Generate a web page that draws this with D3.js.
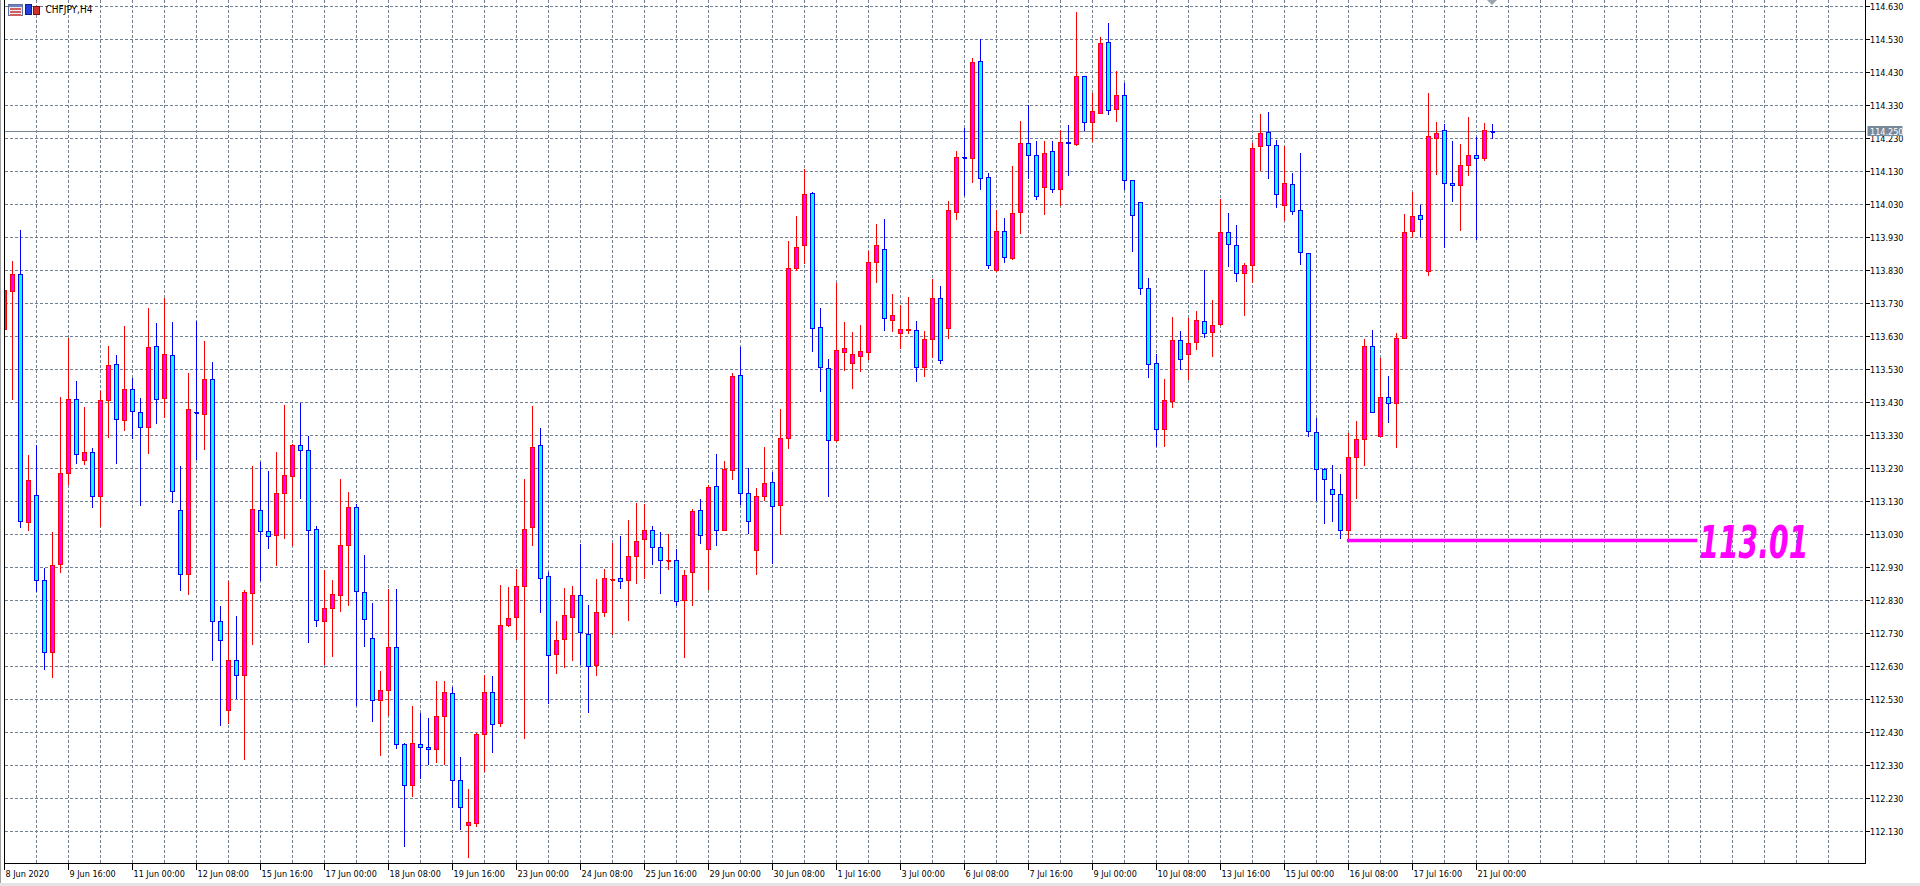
<!DOCTYPE html>
<html><head><meta charset="utf-8">
<script src="https://cdn.jsdelivr.net/npm/d3@7"></script>
<style>html,body{margin:0;padding:0;background:#fff;overflow:hidden}</style>
</head><body><svg id="c" width="1920" height="886" xmlns="http://www.w3.org/2000/svg"></svg>
<script>
const symbolLabel = "CHFJPY,H4";
const timeLabels = ["8 Jun 2020","9 Jun 16:00","11 Jun 00:00","12 Jun 08:00","15 Jun 16:00","17 Jun 00:00","18 Jun 08:00","19 Jun 16:00","23 Jun 00:00","24 Jun 08:00","25 Jun 16:00","29 Jun 00:00","30 Jun 08:00","1 Jul 16:00","3 Jul 00:00","6 Jul 08:00","7 Jul 16:00","9 Jul 00:00","10 Jul 08:00","13 Jul 16:00","15 Jul 00:00","16 Jul 08:00","17 Jul 16:00","21 Jul 00:00"];
const priceTicks = ["112.130","112.230","112.330","112.430","112.530","112.630","112.730","112.830","112.930","113.030","113.130","113.230","113.330","113.430","113.530","113.630","113.730","113.830","113.930","114.030","114.130","114.230","114.330","114.430","114.530","114.630"];

const opens = [113.651,113.766,113.818,113.066,113.148,112.891,112.672,112.939,113.214,113.439,113.255,113.278,113.145,113.436,113.545,113.375,113.469,113.400,113.354,113.600,113.442,113.572,113.103,112.909,113.401,113.394,113.500,112.766,112.497,112.648,112.602,112.851,113.102,113.038,113.027,113.154,113.207,113.299,113.284,113.045,112.766,112.806,112.844,112.996,113.111,112.854,112.715,112.527,112.557,112.687,112.394,112.270,112.394,112.384,112.378,112.478,112.548,112.285,112.148,112.153,112.424,112.551,112.456,112.754,112.777,112.872,113.051,113.299,112.902,112.666,112.712,112.778,112.845,112.727,112.632,112.794,112.893,112.896,112.890,112.963,113.015,113.041,112.990,112.950,112.951,112.830,112.914,113.103,112.986,113.176,113.043,113.224,113.512,113.155,112.982,113.145,113.188,113.119,113.321,113.836,113.905,114.063,113.657,113.533,113.315,113.583,113.548,113.569,113.583,113.854,113.894,113.679,113.640,113.649,113.648,113.536,113.621,113.745,113.654,114.006,114.172,114.169,114.463,114.111,113.829,113.948,113.865,114.005,114.214,114.178,114.081,114.190,114.075,114.218,114.211,114.417,114.278,114.306,114.520,114.318,114.360,114.103,114.035,113.775,113.548,113.349,113.434,113.618,113.576,113.612,113.675,113.642,113.665,113.945,113.906,113.821,113.846,114.205,114.248,114.209,114.027,114.090,114.012,113.882,113.340,113.228,113.167,113.152,113.043,113.264,113.319,113.600,113.328,113.446,113.427,113.625,113.947,113.997,113.827,114.230,114.254,114.094,114.087,114.149,114.179,114.169,114.252];
const highs = [113.775,113.858,113.952,113.270,113.302,112.927,113.039,113.446,113.626,113.495,113.416,113.291,113.464,113.601,113.573,113.663,113.505,113.443,113.716,113.670,113.746,113.673,113.239,113.518,113.676,113.616,113.552,112.813,112.888,112.783,112.861,113.237,113.249,113.222,113.279,113.421,113.304,113.428,113.327,113.055,112.923,112.891,113.197,113.158,113.121,112.967,112.821,112.616,112.865,112.864,112.398,112.510,112.489,112.473,112.586,112.586,112.568,112.356,112.258,112.428,112.603,112.600,112.877,112.870,112.924,113.197,113.418,113.352,112.915,112.767,112.867,112.874,113.000,112.815,112.894,112.925,113.004,113.026,113.073,113.124,113.122,113.055,113.039,113.033,112.985,112.922,113.108,113.137,113.180,113.274,113.253,113.519,113.598,113.231,113.171,113.295,113.219,113.410,113.920,113.995,114.138,114.068,113.717,113.562,113.792,113.673,113.644,113.664,113.888,113.970,113.986,113.758,113.724,113.749,113.677,113.647,113.803,113.783,114.040,114.191,114.262,114.474,114.530,114.126,114.014,113.988,114.146,114.282,114.333,114.222,114.222,114.222,114.257,114.270,114.612,114.417,114.367,114.539,114.579,114.436,114.399,114.103,114.039,113.807,113.578,113.501,113.688,113.646,113.686,113.707,113.830,113.740,114.046,114.004,113.967,113.852,114.217,114.303,114.310,114.225,114.208,114.125,114.186,113.882,113.383,113.231,113.241,113.213,113.337,113.374,113.623,113.649,113.565,113.510,113.641,114.001,114.068,114.028,114.368,114.279,114.273,114.223,114.213,114.295,114.236,114.277,114.274];
const lows = [113.645,113.440,113.053,113.043,112.859,112.623,112.599,112.917,113.184,113.247,113.244,113.112,113.056,113.326,113.247,113.347,113.323,113.120,113.277,113.368,113.387,113.130,112.862,112.850,113.259,113.290,112.650,112.453,112.459,112.535,112.351,112.698,112.892,112.989,112.938,113.020,112.997,113.141,112.705,112.753,112.638,112.663,112.799,112.816,112.514,112.692,112.464,112.363,112.482,112.383,112.087,112.238,112.293,112.335,112.341,112.335,112.205,112.139,112.054,112.148,112.312,112.372,112.451,112.754,112.714,112.414,112.997,112.796,112.518,112.610,112.630,112.650,112.637,112.492,112.604,112.784,112.729,112.867,112.771,112.884,112.898,112.941,112.853,112.926,112.817,112.658,112.816,113.005,112.864,112.999,113.043,113.197,113.123,113.036,112.909,113.134,112.945,113.031,113.293,113.830,113.854,113.586,113.466,113.147,113.312,113.529,113.475,113.526,113.563,113.795,113.650,113.647,113.595,113.642,113.495,113.510,113.569,113.551,113.625,113.986,114.058,114.099,114.077,113.838,113.829,113.856,113.865,113.944,114.110,114.047,114.002,114.068,114.029,114.119,114.211,114.256,114.221,114.306,114.305,114.283,114.077,113.889,113.759,113.506,113.297,113.299,113.415,113.532,113.501,113.593,113.630,113.572,113.665,113.845,113.799,113.696,113.795,114.135,114.110,114.023,113.984,114.002,113.851,113.328,113.136,113.066,113.072,113.018,113.017,113.142,113.242,113.401,113.328,113.372,113.296,113.625,113.931,113.935,113.815,114.123,113.900,114.041,113.953,114.120,113.924,114.165,114.230];
const closes = [113.770,113.818,113.069,113.194,112.891,112.672,112.936,113.215,113.439,113.272,113.278,113.145,113.436,113.542,113.378,113.469,113.403,113.354,113.597,113.439,113.575,113.160,112.909,113.409,113.400,113.500,112.766,112.709,112.648,112.602,112.854,113.105,113.038,113.024,113.154,113.208,113.299,113.284,113.041,112.768,112.806,112.848,112.996,113.111,112.857,112.772,112.527,112.557,112.687,112.394,112.270,112.398,112.384,112.378,112.478,112.551,112.285,112.203,112.157,112.424,112.551,112.454,112.754,112.775,112.873,113.045,113.293,112.896,112.663,112.709,112.785,112.845,112.732,112.629,112.794,112.896,112.895,112.887,112.963,113.009,113.041,112.990,112.951,112.951,112.827,112.905,113.100,113.028,113.173,113.043,113.228,113.509,113.155,113.070,113.145,113.185,113.116,113.321,113.836,113.900,114.060,113.654,113.536,113.315,113.588,113.594,113.575,113.584,113.855,113.906,113.685,113.694,113.651,113.650,113.536,113.621,113.745,113.558,114.011,114.172,114.171,114.460,114.108,113.844,113.948,113.869,114.003,114.214,114.178,114.054,114.184,114.075,114.218,114.214,114.417,114.278,114.312,114.517,114.315,114.360,114.103,113.996,113.775,113.545,113.349,113.437,113.618,113.560,113.609,113.678,113.639,113.663,113.945,113.909,113.821,113.846,114.200,114.245,114.209,114.060,114.094,114.009,113.885,113.343,113.228,113.198,113.152,113.043,113.264,113.319,113.600,113.401,113.446,113.427,113.625,113.945,113.994,113.985,114.236,114.245,114.094,114.087,114.149,114.179,114.169,114.254,114.250];

const currentPrice = 114.250;
const levelPrice = 113.013;
const levelLabel = "113.01";
const levelStartBar = 167.8;
const levelEndBar = 211.6;
const shiftMarkerBar = 186;

// ---------- layout ----------
const W = 1920, H = 886;
const plotL = 4.5, plotR = 1865.5, plotB = 863.5;
const svg = d3.select("#c");
const FONT = "'DejaVu Sans Condensed','DejaVu Sans',sans-serif";
const AXIS_FS = 9;

const x = d3.scaleLinear().domain([0, 186]).range([4.5, 4.5 + 8 * 186]);
const y = d3.scaleLinear().domain([112.13, 114.63]).range([831.5, 6.5]);
const snap = v => Math.round(v - 0.5) + 0.5;

svg.append("rect").attr("width", W).attr("height", H).attr("fill", "#ffffff");

svg.append("defs").append("clipPath").attr("id", "plot")
  .append("rect").attr("x", 5).attr("y", 0).attr("width", plotR - 5).attr("height", plotB);

const gGrid = svg.append("g").attr("shape-rendering", "crispEdges");
gGrid.selectAll("line.h").data(priceTicks).enter().append("line")
  .attr("x1", plotL).attr("x2", plotR)
  .attr("y1", d => snap(y(+d))).attr("y2", d => snap(y(+d)))
  .attr("stroke", "#708090").attr("stroke-width", 1).attr("stroke-dasharray", "3,2");
const vgrid = d3.range(4, 232, 4).filter(i => x(i) < plotR - 1);
gGrid.selectAll("line.v").data(vgrid).enter().append("line")
  .attr("x1", d => x(d)).attr("x2", d => x(d))
  .attr("y1", 0).attr("y2", plotB)
  .attr("stroke", "#708090").attr("stroke-width", 1).attr("stroke-dasharray", "3,2");

svg.append("line").attr("shape-rendering", "crispEdges")
  .attr("x1", plotL).attr("x2", plotR)
  .attr("y1", snap(y(currentPrice))).attr("y2", snap(y(currentPrice)))
  .attr("stroke", "#778899").attr("stroke-width", 1);

const bars = opens.map((o, i) => ({ i, o, h: highs[i], l: lows[i], c: closes[i] }));
const gC = svg.append("g").attr("clip-path", "url(#plot)").attr("shape-rendering", "crispEdges");
const cg = gC.selectAll("g.bar").data(bars).enter().append("g");
cg.append("line")
  .attr("x1", d => x(d.i)).attr("x2", d => x(d.i))
  .attr("y1", d => Math.round(y(d.h))).attr("y2", d => Math.round(y(d.l)) + 1)
  .attr("stroke", d => d.c > d.o ? "#ff0000" : "#0000ff").attr("stroke-width", 1);
cg.each(function (d) {
  const g = d3.select(this);
  const top = snap(y(Math.max(d.o, d.c)));
  const bot = snap(y(Math.min(d.o, d.c)));
  const up = d.c > d.o;
  if (bot - top < 1) {
    g.append("line").attr("x1", x(d.i) - 2.5).attr("x2", x(d.i) + 2.5)
      .attr("y1", top).attr("y2", top)
      .attr("stroke", up ? "#ff0000" : "#0000ff").attr("stroke-width", 1);
    g.append("line").attr("x1", x(d.i) - 2).attr("x2", x(d.i) + 2)
      .attr("y1", top + 0.5).attr("y2", top + 0.5)
      .attr("stroke", up ? "#ff0000" : "#0000ff").attr("stroke-width", 1);
  } else {
    g.append("rect").attr("x", x(d.i) - 2).attr("width", 4)
      .attr("y", top).attr("height", bot - top)
      .attr("fill", up ? "#ff00ff" : "#00ffff")
      .attr("stroke", up ? "#ff0000" : "#0000ff").attr("stroke-width", 1);
  }
});

const ly = snap(y(levelPrice));
svg.append("line").attr("x1", x(levelStartBar)).attr("x2", x(levelEndBar))
  .attr("y1", ly).attr("y2", ly).attr("stroke", "#ff00ff").attr("stroke-width", 3.5);
svg.append("text").attr("x", x(levelEndBar) + 2).attr("y", ly + 17)
  .attr("font-family", "'Liberation Sans Narrow','DejaVu Sans Condensed',sans-serif")
  .attr("font-weight", "bold").attr("font-style", "italic").attr("font-size", 45)
  .attr("textLength", 109).attr("lengthAdjust", "spacingAndGlyphs")
  .attr("fill", "#ff00ff").text(levelLabel);

const gA = svg.append("g").attr("shape-rendering", "crispEdges");
gA.append("line").attr("x1", 0.5).attr("x2", 0.5).attr("y1", 0).attr("y2", H).attr("stroke", "#a0a0a0");
gA.append("line").attr("x1", plotL).attr("x2", plotL).attr("y1", 0).attr("y2", plotB).attr("stroke", "#000");
gA.append("line").attr("x1", plotR).attr("x2", plotR).attr("y1", 0).attr("y2", plotB + 0.5).attr("stroke", "#000");
gA.append("line").attr("x1", plotL).attr("x2", plotR).attr("y1", plotB).attr("y2", plotB).attr("stroke", "#000");
gA.append("rect").attr("x", 0).attr("y", 883).attr("width", W).attr("height", 3).attr("fill", "#e4e4e4");

const gP = svg.append("g");
gP.selectAll("line").data(priceTicks).enter().append("line").attr("shape-rendering", "crispEdges")
  .attr("x1", plotR).attr("x2", plotR + 4)
  .attr("y1", d => snap(y(+d))).attr("y2", d => snap(y(+d))).attr("stroke", "#000");
gP.selectAll("text").data(priceTicks).enter().append("text")
  .attr("x", plotR + 4.5).attr("y", d => snap(y(+d)) + 3.3)
  .attr("font-family", FONT).attr("font-stretch", "condensed").attr("font-size", AXIS_FS)
  .attr("fill", "#000").text(d => d);

const cy = snap(y(currentPrice));
svg.append("rect").attr("x", plotR + 2).attr("y", cy - 5.5).attr("width", 35).attr("height", 10).attr("fill", "#778899");
svg.append("text").attr("x", plotR + 4.5).attr("y", cy + 3)
  .attr("font-family", FONT).attr("font-stretch", "condensed").attr("font-size", AXIS_FS)
  .attr("fill", "#ffffff").text(currentPrice.toFixed(3));

const gT = svg.append("g");
gT.selectAll("line").data(timeLabels).enter().append("line").attr("shape-rendering", "crispEdges")
  .attr("x1", (d, k) => x(k * 8)).attr("x2", (d, k) => x(k * 8))
  .attr("y1", plotB).attr("y2", plotB + 6).attr("stroke", "#000");
gT.selectAll("text").data(timeLabels).enter().append("text")
  .attr("x", (d, k) => x(k * 8) + 1).attr("y", 877)
  .attr("font-family", FONT).attr("font-stretch", "condensed").attr("font-size", AXIS_FS)
  .attr("fill", "#000").text(d => d);

const sx = x(shiftMarkerBar) - 0.5;
svg.append("path").attr("d", `M${sx - 5},0 L${sx + 5},0 L${sx},5 Z`).attr("fill", "#9aa4ae");

const gI = svg.append("g").attr("shape-rendering", "crispEdges");
gI.append("rect").attr("x", 8.5).attr("y", 4.5).attr("width", 14).attr("height", 11).attr("fill", "#e8ecf4").attr("stroke", "#6070a0");
gI.append("rect").attr("x", 9).attr("y", 5).attr("width", 13).attr("height", 2).attr("fill", "#7080c0");
[8, 11, 14].forEach(v => {
  gI.append("rect").attr("x", 10).attr("y", v).attr("width", 11).attr("height", 1.5).attr("fill", "#d06060");
});
gI.append("rect").attr("x", 25.5).attr("y", 4.5).attr("width", 6).attr("height", 10).attr("fill", "#2040e0").attr("stroke", "#102080");
gI.append("rect").attr("x", 33.5).attr("y", 6.5).attr("width", 6).attr("height", 8).attr("fill", "#d03030").attr("stroke", "#801010");
svg.append("text").attr("x", 45.5).attr("y", 13)
  .attr("font-family", FONT).attr("font-stretch", "condensed").attr("font-size", 10)
  .attr("fill", "#000").text(symbolLabel);
</script>
</body></html>
